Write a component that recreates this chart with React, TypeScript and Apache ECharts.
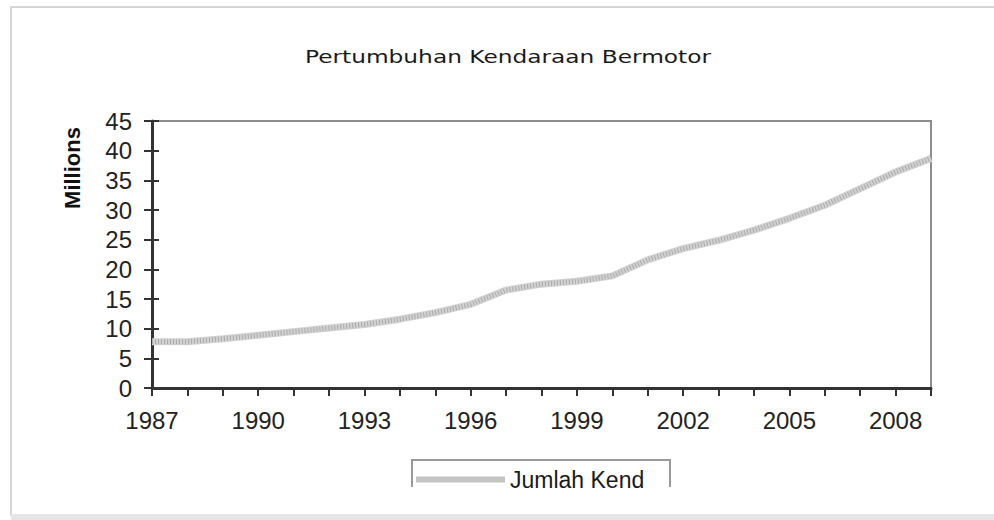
import React, { useEffect, useRef } from "react";
import * as echarts from "echarts";

const years = [1987, 1988, 1989, 1990, 1991, 1992, 1993, 1994, 1995, 1996, 1997, 1998, 1999, 2000, 2001, 2002, 2003, 2004, 2005, 2006, 2007, 2008, 2009];
const jumlahKend = [7.8, 7.8, 8.3, 8.9, 9.5, 10.1, 10.7, 11.6, 12.7, 14.1, 16.5, 17.5, 18.0, 18.9, 21.6, 23.5, 24.9, 26.6, 28.6, 30.8, 33.6, 36.4, 38.7];
const labeledYears = [1987, 1990, 1993, 1996, 1999, 2002, 2005, 2008];
const titleText = "Pertumbuhan Kendaraan Bermotor";
const yAxisTitle = "Millions";
const seriesName = "Jumlah Kend";

const FONT = "'Liberation Sans', Arial, sans-serif";

export default function App() {
  const ref = useRef<HTMLDivElement>(null);
  useEffect(() => {
    if (!ref.current) return;
    const chart = echarts.init(ref.current, null, { renderer: "svg" });
    const data = years.map((y, i) => [y, jumlahKend[i]]);
    const xBase = {
      type: "value",
      min: 1987,
      max: 2009,
      interval: 1,
      splitLine: { show: false },
    };
    const yBase = {
      type: "value",
      min: 0,
      max: 45,
      interval: 5,
      splitLine: { show: false },
      position: "left",
    };
    chart.setOption({
      animation: false,
      backgroundColor: "#ffffff",
      grid: {
        left: 152,
        right: 63,
        top: 121,
        bottom: 132,
        show: true,
        borderColor: "#8c8c8c",
        borderWidth: 2,
        backgroundColor: "#ffffff",
      },
      legend: {
        data: [seriesName],
        left: 411,
        top: 463,
        icon: "rect",
        itemWidth: 89,
        itemHeight: 6,
        itemGap: 4,
        textStyle: { fontFamily: FONT, fontSize: 23, color: "#1a1a1a" },
      },
      xAxis: [
        {
          ...xBase,
          axisLine: { show: true, lineStyle: { color: "#333", width: 3 } },
          axisTick: { show: true, inside: false, length: 8, lineStyle: { color: "#333", width: 2 } },
          axisLabel: {
            margin: 20,
            fontFamily: FONT,
            fontSize: 24,
            color: "#222",
            formatter: (v: number) => (labeledYears.indexOf(v) >= 0 ? String(v) : ""),
          },
        },
        {
          ...xBase,
          axisLine: { show: false },
          axisTick: { show: true, inside: true, length: 7, lineStyle: { color: "#333", width: 2 } },
          axisLabel: { show: false },
        },
      ],
      yAxis: [
        {
          ...yBase,
          axisLine: { show: true, lineStyle: { color: "#333", width: 3 } },
          axisTick: { show: true, inside: false, length: 8, lineStyle: { color: "#333", width: 2 } },
          axisLabel: { margin: 20, fontFamily: FONT, fontSize: 24, color: "#222" },
        },
        {
          ...yBase,
          axisLine: { show: false },
          axisTick: { show: true, inside: true, length: 7, lineStyle: { color: "#333", width: 2 } },
          axisLabel: { show: false },
        },
      ],
      series: [
        {
          name: seriesName,
          type: "line",
          xAxisIndex: 0,
          yAxisIndex: 0,
          data,
          showSymbol: false,
          symbol: "none",
          itemStyle: { color: "#c4c4c4" },
          lineStyle: { color: "#d2d2d2", width: 7 },
          z: 3,
        },
        {
          name: "hatch",
          type: "line",
          xAxisIndex: 0,
          yAxisIndex: 0,
          data,
          showSymbol: false,
          symbol: "none",
          lineStyle: { color: "#9c9c9c", width: 5, type: [1, 2], opacity: 0.75 },
          silent: true,
          z: 4,
        },
      ],
      graphic: [
        {
          type: "rect",
          z: -10,
          shape: { x: 11, y: 7, width: 1000, height: 508 },
          style: { fill: "none", stroke: "#d6d6d6", lineWidth: 2 },
        },
        {
          type: "rect",
          z: -10,
          shape: { x: 11, y: 514, width: 1000, height: 6 },
          style: { fill: "#e6e6e6" },
        },
        {
          type: "text",
          x: 508,
          y: 57,
          scaleX: 1.37,
          style: {
            text: titleText,
            fontFamily: "'DejaVu Sans', sans-serif",
            fontSize: 17,
            fill: "#1a1a1a",
            align: "center",
            verticalAlign: "middle",
          },
        },
        {
          type: "text",
          x: 72,
          y: 168,
          rotation: Math.PI / 2,
          style: {
            text: yAxisTitle,
            fontFamily: FONT,
            fontSize: 22,
            fontWeight: "bold",
            fill: "#111",
            align: "center",
            verticalAlign: "middle",
          },
        },
        {
          type: "polyline",
          shape: { points: [[412, 487], [412, 460], [670, 460], [670, 487]] },
          style: { fill: "none", stroke: "#999", lineWidth: 2 },
        },
      ],
    });
    return () => chart.dispose();
  }, []);
  return (
    <div
      ref={ref}
      style={{ position: "fixed", left: 0, top: 0, width: 994, height: 520 }}
    />
  );
}
